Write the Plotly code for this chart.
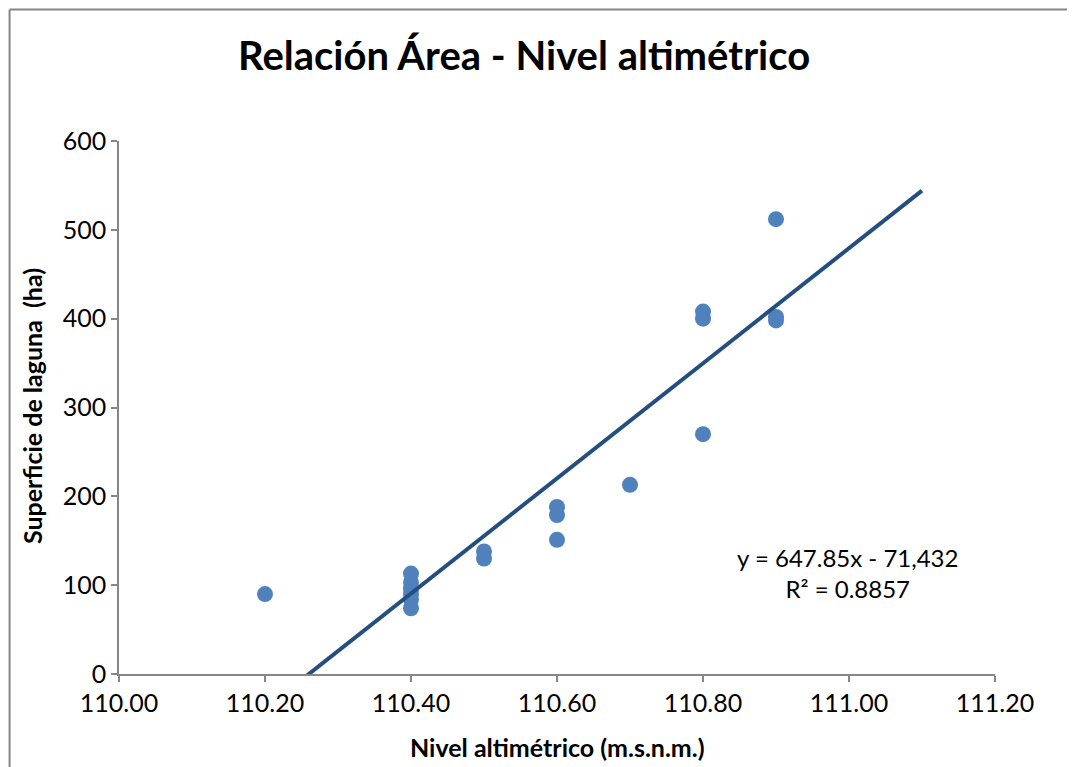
import plotly.graph_objects as go

# Data
nivel = [110.20,
         110.40, 110.40, 110.40, 110.40, 110.40, 110.40,
         110.50, 110.50,
         110.60, 110.60, 110.60,
         110.70,
         110.80, 110.80, 110.80,
         110.90, 110.90, 110.90]
superficie = [90,
              113, 103, 96, 90, 84, 74,
              138, 130,
              188, 179, 151,
              213,
              408, 400, 270,
              512, 402, 398]

# Trend line as reported on the chart: y = 647.85x - 71,432
slope = 647.85
intercept = -71432
trend_x = [110.20, 111.10]
trend_y = [slope * x + intercept for x in trend_x]

x_ticks = [110.00, 110.20, 110.40, 110.60, 110.80, 111.00, 111.20]
y_ticks = [0, 100, 200, 300, 400, 500, 600]

FONT = "Lato, 'Open Sans', sans-serif"
AXIS_COLOR = "#868686"

# page body margin offset (px)
OFF = 8
W, H = 1075 - OFF, 767 - OFF

fig = go.Figure()
fig.add_trace(go.Scatter(x=nivel, y=superficie, mode="markers",
                         marker=dict(size=16, color="#4F81BD", line=dict(width=0)),
                         showlegend=False, cliponaxis=False))
fig.add_trace(go.Scatter(x=trend_x, y=trend_y, mode="lines",
                         line=dict(color="#254E80", width=4),
                         showlegend=False))

# plot area in screen pixels
X0, X1 = 119, 995.5
Y0, Y1 = 141, 674
L = X0 - OFF
T = Y0 - OFF
R = W - (X1 - OFF)
B = H - (Y1 - OFF)
PW = X1 - X0
PH = Y1 - Y0

def px_to_paper_x(px):
    return (px - X0) / PW

def px_to_paper_y(py):
    return (Y1 - py) / PH

fig.update_layout(
    width=W, height=H,
    margin=dict(l=L, r=R, t=T, b=B, autoexpand=False),
    paper_bgcolor="white", plot_bgcolor="white",
    font=dict(family=FONT, color="black"),
    xaxis=dict(range=[110.0, 111.2], tickvals=x_ticks,
               ticktext=[f"{v:.2f}" for v in x_ticks],
               showgrid=False, zeroline=False, showline=True,
               linecolor=AXIS_COLOR, linewidth=1.5, automargin=False,
               ticks="outside", ticklen=6, tickcolor=AXIS_COLOR, tickwidth=1.5,
               tickfont=dict(size=25, family=FONT)),
    yaxis=dict(range=[0, 600], tickvals=y_ticks,
               showgrid=False, zeroline=False, showline=True,
               linecolor=AXIS_COLOR, linewidth=1.5, automargin=False,
               ticks="outside", ticklen=6, tickcolor=AXIS_COLOR, tickwidth=1.5,
               tickfont=dict(size=25, family=FONT)),
)

# Chart title
fig.add_annotation(x=px_to_paper_x(524), y=px_to_paper_y(55), xref="paper", yref="paper",
                   text="<b>Relación Área - Nivel altimétrico</b>", showarrow=False,
                   font=dict(size=40, family=FONT, color="black"),
                   xanchor="center", yanchor="middle")

# Axis titles
fig.add_annotation(x=px_to_paper_x(558), y=px_to_paper_y(747), xref="paper", yref="paper",
                   text="<b>Nivel altimétrico (m.s.n.m.)</b>", showarrow=False,
                   font=dict(size=25, family=FONT, color="black"),
                   xanchor="center", yanchor="middle")
fig.add_annotation(x=px_to_paper_x(32), y=px_to_paper_y(406), xref="paper", yref="paper",
                   text="<b>Superficie de laguna  (ha)</b>", showarrow=False, textangle=-90,
                   font=dict(size=25, family=FONT, color="black"),
                   xanchor="center", yanchor="middle")

# Equation annotation
fig.add_annotation(x=px_to_paper_x(848), y=px_to_paper_y(573), xref="paper", yref="paper",
                   text="y = 647.85x - 71,432<br>R² = 0.8857", showarrow=False,
                   align="center", font=dict(size=24, family=FONT, color="black"),
                   xanchor="center", yanchor="middle")

# Outer chart frame (left and top edges visible)
fx0 = px_to_paper_x(OFF + 1.5)
fy1 = px_to_paper_y(OFF + 1.5)
fig.add_shape(type="line", xref="paper", yref="paper",
              x0=fx0, x1=fx0, y0=-0.5, y1=fy1,
              line=dict(color=AXIS_COLOR, width=2))
fig.add_shape(type="line", xref="paper", yref="paper",
              x0=fx0, x1=1.5, y0=fy1, y1=fy1,
              line=dict(color=AXIS_COLOR, width=2))

fig.write_html("out.html")
